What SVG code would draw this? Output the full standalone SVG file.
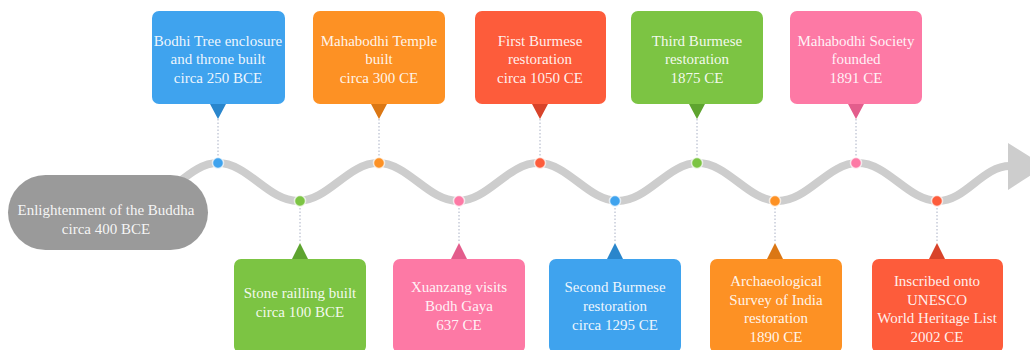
<svg xmlns="http://www.w3.org/2000/svg" width="1030" height="350" viewBox="0 0 1030 350">
<style>
text{font-family:"Liberation Serif","Times New Roman",serif;font-size:15px;fill:#fff;fill-opacity:0.92;text-anchor:middle}
.wave{fill:none;stroke:#cdcdcd;stroke-width:8;stroke-linecap:round}
.lead{stroke:#a9b0c4;stroke-width:1;stroke-dasharray:1.5 2;fill:none}
.dot{stroke:#fff;stroke-width:1.5;stroke-opacity:0.7}
.blue{fill:#3fa3ee}.blued{fill:#2a86cc}
.orange{fill:#fd9124}.oranged{fill:#db7714}
.red{fill:#fd5c3b}.redd{fill:#d8432a}
.green{fill:#7cc443}.greend{fill:#5ea42f}
.pink{fill:#fd79a5}.pinkd{fill:#e35d8c}
</style>
<g id="connectors">
<path class="wave" d="M140 201 C170 201 188 163 218 163 C248 163 268 201 298 201 C328 201 348 163 378 163 C408 163 428 201 458 201 C488 201 508 163 538 163 C568 163 588 201 618 201 C648 201 668 163 698 163 C728 163 748 201 778 201 C808 201 828 163 858 163 C888 163 908 201 938 201 C966 201 982 166 1010 166"/>
<polygon points="1008,143 1008,190 1045,166" fill="#cdcdcd"/>
<line class="lead" x1="218" y1="119" x2="218" y2="163"/>
<line class="lead" x1="379" y1="119" x2="379" y2="163"/>
<line class="lead" x1="540" y1="119" x2="540" y2="163"/>
<line class="lead" x1="697" y1="119" x2="697" y2="163"/>
<line class="lead" x1="856" y1="119" x2="856" y2="163"/>
<line class="lead" x1="300" y1="201" x2="300" y2="243"/>
<line class="lead" x1="459" y1="201" x2="459" y2="243"/>
<line class="lead" x1="615" y1="201" x2="615" y2="243"/>
<line class="lead" x1="775" y1="201" x2="775" y2="243"/>
<line class="lead" x1="937" y1="201" x2="937" y2="243"/>
<circle class="dot blue" cx="218" cy="163" r="5.5"/>
<circle class="dot green" cx="300" cy="201" r="5.5"/>
<circle class="dot orange" cx="379" cy="163" r="5.5"/>
<circle class="dot pink" cx="459" cy="201" r="5.5"/>
<circle class="dot red" cx="540" cy="163" r="5.5"/>
<circle class="dot blue" cx="615" cy="201" r="5.5"/>
<circle class="dot green" cx="697" cy="163" r="5.5"/>
<circle class="dot orange" cx="775" cy="201" r="5.5"/>
<circle class="dot pink" cx="856" cy="163" r="5.5"/>
<circle class="dot red" cx="937" cy="201" r="5.5"/>
</g>
<g id="start">
<rect x="8" y="175" width="200" height="75" rx="37.5" fill="#9a9a9a"/>
<text x="106" y="215">Enlightenment of the Buddha</text>
<text x="106" y="234">circa 400 BCE</text>
</g>
<g id="e1">
<rect class="blue" x="152" y="11" width="133" height="93" rx="7"/>
<polygon class="blued" points="210,104 226,104 218,119"/>
<text x="218" y="46">Bodhi Tree enclosure</text>
<text x="218" y="64">and throne built</text>
<text x="218" y="83">circa 250 BCE</text>
</g>
<g id="e2">
<rect class="green" x="234" y="259" width="132" height="94" rx="7"/>
<polygon class="greend" points="292,259 308,259 300,243"/>
<text x="300" y="298">Stone railling built</text>
<text x="300" y="317">circa 100 BCE</text>
</g>
<g id="e3">
<rect class="orange" x="313" y="11" width="132" height="93" rx="7"/>
<polygon class="oranged" points="371,104 387,104 379,119"/>
<text x="379" y="46">Mahabodhi Temple</text>
<text x="379" y="64">built</text>
<text x="379" y="83">circa 300 CE</text>
</g>
<g id="e4">
<rect class="pink" x="393" y="259" width="132" height="94" rx="7"/>
<polygon class="pinkd" points="451,259 467,259 459,243"/>
<text x="459" y="292">Xuanzang visits</text>
<text x="459" y="311">Bodh Gaya</text>
<text x="459" y="330">637 CE</text>
</g>
<g id="e5">
<rect class="red" x="475" y="11" width="131" height="93" rx="7"/>
<polygon class="redd" points="532,104 548,104 540,119"/>
<text x="540" y="46">First Burmese</text>
<text x="540" y="64">restoration</text>
<text x="540" y="83">circa 1050 CE</text>
</g>
<g id="e6">
<rect class="blue" x="549" y="259" width="132" height="94" rx="7"/>
<polygon class="blued" points="607,259 623,259 615,243"/>
<text x="615" y="292">Second Burmese</text>
<text x="615" y="311">restoration</text>
<text x="615" y="330">circa 1295 CE</text>
</g>
<g id="e7">
<rect class="green" x="631" y="11" width="132" height="93" rx="7"/>
<polygon class="greend" points="689,104 705,104 697,119"/>
<text x="697" y="46">Third Burmese</text>
<text x="697" y="64">restoration</text>
<text x="697" y="83">1875 CE</text>
</g>
<g id="e8">
<rect class="orange" x="710" y="259" width="132" height="94" rx="7"/>
<polygon class="oranged" points="767,259 783,259 775,243"/>
<text x="776" y="286">Archaeological</text>
<text x="776" y="305">Survey of India</text>
<text x="776" y="323">restoration</text>
<text x="776" y="342">1890 CE</text>
</g>
<g id="e9">
<rect class="pink" x="790" y="11" width="132" height="93" rx="7"/>
<polygon class="pinkd" points="848,104 864,104 856,119"/>
<text x="856" y="46">Mahabodhi Society</text>
<text x="856" y="64">founded</text>
<text x="856" y="83">1891 CE</text>
</g>
<g id="e10">
<rect class="red" x="872" y="259" width="131" height="94" rx="7"/>
<polygon class="redd" points="929,259 945,259 937,243"/>
<text x="937" y="286">Inscribed onto</text>
<text x="937" y="305">UNESCO</text>
<text x="937" y="323">World Heritage List</text>
<text x="937" y="342">2002 CE</text>
</g>
</svg>
